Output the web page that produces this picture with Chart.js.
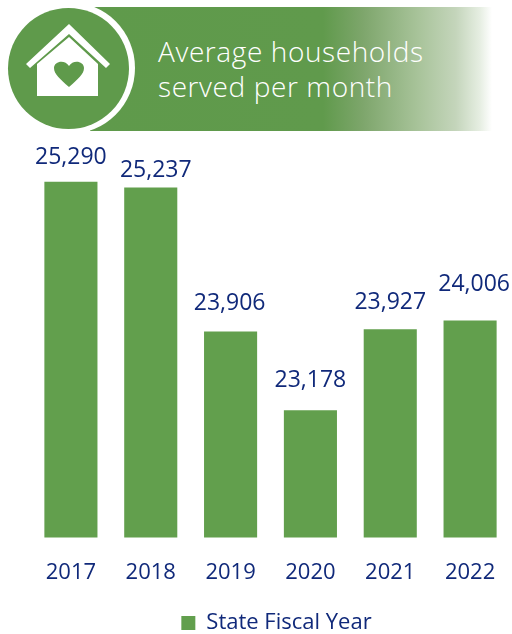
<!DOCTYPE html>
<html><head><meta charset="utf-8">
<script src="https://cdn.jsdelivr.net/npm/chart.js@4"></script>
<style>
html,body{margin:0;padding:0;background:#fff;width:512px;height:634px;overflow:hidden}
#wrap{position:relative;width:512px;height:634px}
canvas{position:absolute;left:0;top:0}
#band{position:absolute;left:90px;top:7px;width:402px;height:124px;
background:linear-gradient(90deg,#5f9a4b 0%,#609a4c 58%,#7ea66c 68%,#a9c49b 82%,#c4d5bb 91%,#e6eee2 97%,#fff 100%)}
#circle{position:absolute;left:3px;top:2px;width:132px;height:132px;border-radius:50%;background:#fff}
#disc{position:absolute;left:8px;top:8px;width:121px;height:121px;border-radius:50%;background:#5f9a4b}
#icon{position:absolute;left:24px;top:22px}
.t{position:absolute;left:158px;color:#fff;font:28px/36px "Open Sans",sans-serif;letter-spacing:.6px;white-space:nowrap;font-weight:300}
</style></head><body>
<div id="wrap">
<div id="band"></div><div id="circle"></div><div id="disc"></div>
<svg id="icon" width="92" height="78" viewBox="0 0 92 78">
<path d="M2 42 L45 2 L86 42 L82 46 L45 12 L6 46 Z" fill="#fff"/>
<path fill-rule="evenodd" fill="#fff" d="M13 42 L45 15 L74 42 L74 74 L13 74 Z M45 65 C36 57 30 52 30 46 C30 39 41 37 45 44 C49 37 60 39 60 46 C60 52 54 57 45 65 Z"/>
</svg>
<div class="t" style="top:33px">Average households</div>
<div class="t" style="top:68px">served per month</div>
<canvas id="c" width="512" height="634"></canvas>
</div>
<script>
const categories=["2017","2018","2019","2020","2021","2022"];
const values=[25290,25237,23906,23178,23927,24006];
const seriesName="State Fiscal Year";
const navy="#10297a",green="#629f4d";
const font="'Open Sans',sans-serif";
const labelShiftX=[0,5,-1,0,0,4];
const labelGap=[24,17,28,30,27,36];
const labelPlugin={id:"valueLabels",
 afterLayout(ch){const l=ch.legend;l.left+=6;l.right+=6;l.top+=10;l.bottom+=10;},
 afterDatasetsDraw(ch){
  const ctx=ch.ctx,m=ch.getDatasetMeta(0);
  ctx.save();ctx.fillStyle=navy;ctx.font="23px "+font;ctx.textAlign="center";ctx.textBaseline="middle";
  m.data.forEach((b,i)=>ctx.fillText(values[i].toLocaleString("en-US"),b.x+labelShiftX[i],b.y-labelGap[i]));
  ctx.restore();
}};
new Chart(document.getElementById("c"),{
  type:"bar",
  data:{labels:categories,datasets:[{label:seriesName,data:values,backgroundColor:green,barPercentage:.665,categoryPercentage:1}]},
  options:{responsive:false,animation:false,
    layout:{padding:{left:31,right:2,top:159,bottom:0}},
    scales:{
      x:{grid:{display:false},border:{display:false},ticks:{color:navy,font:{size:22,family:font},padding:14,maxRotation:0}},
      y:{display:false,min:22000,max:25500}
    },
    plugins:{
      tooltip:{enabled:false},
      legend:{position:"bottom",labels:{color:navy,font:{size:22,family:font},boxWidth:14,boxHeight:14,padding:2}}
    }
  },
  plugins:[labelPlugin]
});
</script>
</body></html>
